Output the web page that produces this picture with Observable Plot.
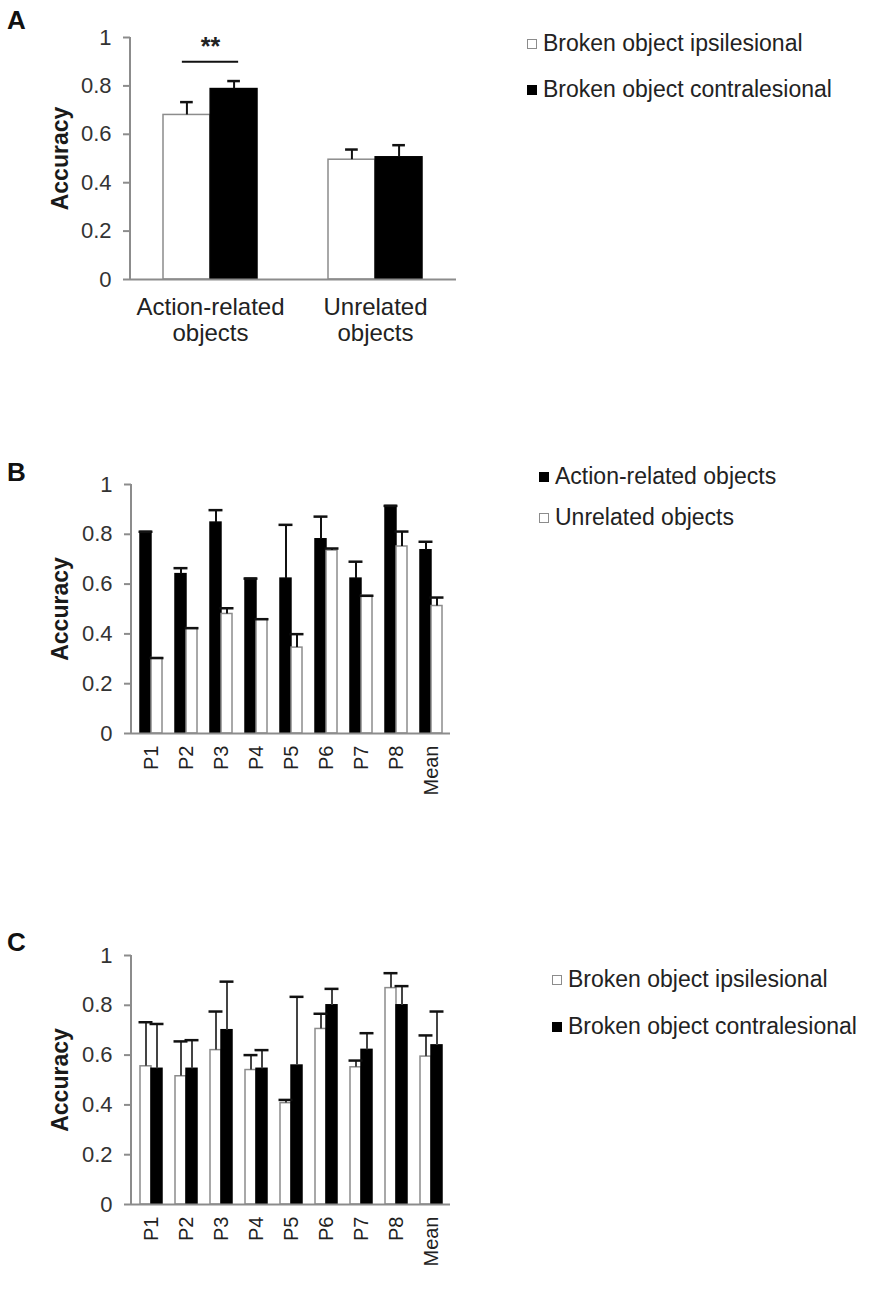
<!DOCTYPE html>
<html><head><meta charset="utf-8">
<script src="https://cdn.jsdelivr.net/npm/d3@7"></script>
<script src="https://cdn.jsdelivr.net/npm/@observablehq/plot@0.6"></script>
<style>
body{margin:0;background:#fff;}
#root{position:relative;width:884px;height:1300px;background:#fff;font-family:"Liberation Sans",Arial,sans-serif;color:#222;overflow:hidden;}
.panel{position:absolute;left:0;}
.letter{position:absolute;left:7px;font-weight:bold;font-size:26px;line-height:26px;color:#111;}
.leg{position:absolute;white-space:nowrap;font-size:23px;line-height:23px;color:#222;}
.sw{position:absolute;width:10px;height:10px;box-sizing:border-box;}
</style></head><body><div id="root"></div>
<script>
// ---------- data ----------
const yTicks = [0, 0.2, 0.4, 0.6, 0.8, 1];
const yTickLabels = ["0", "0.2", "0.4", "0.6", "0.8", "1"];

// Panel A
const groupsA = ["Action-related objects", "Unrelated objects"];
const groupLabelsA = ["Action-related\nobjects", "Unrelated\nobjects"];
const ipsiA = [0.68, 0.495];
const ipsiErrA = [0.733, 0.537];
const contraA = [0.787, 0.505];
const contraErrA = [0.82, 0.555];
const sigGroupA = ["Action-related objects"];
const sigLineA = [0.9];
const sigStarYA = [0.96];
const sigStarsA = ["**"];
const legendLabelsA = ["Broken object ipsilesional", "Broken object contralesional"];

// Panel B
const participants = ["P1", "P2", "P3", "P4", "P5", "P6", "P7", "P8", "Mean"];
const actionB = [0.81, 0.64, 0.847, 0.622, 0.622, 0.78, 0.622, 0.914, 0.736];
const actionErrB = [0.81, 0.664, 0.897, 0.622, 0.838, 0.871, 0.69, 0.914, 0.77];
const unrelB = [0.303, 0.423, 0.48, 0.459, 0.345, 0.735, 0.553, 0.751, 0.512];
const unrelErrB = [0.303, 0.423, 0.503, 0.459, 0.399, 0.743, 0.553, 0.811, 0.546];
const legendLabelsB = ["Action-related objects", "Unrelated objects"];

// Panel C
const ipsiC = [0.555, 0.515, 0.62, 0.54, 0.407, 0.705, 0.551, 0.869, 0.594];
const ipsiErrC = [0.732, 0.655, 0.775, 0.60, 0.42, 0.766, 0.578, 0.929, 0.679];
const contraC = [0.545, 0.545, 0.70, 0.545, 0.558, 0.80, 0.621, 0.80, 0.639];
const contraErrC = [0.725, 0.66, 0.895, 0.62, 0.834, 0.866, 0.688, 0.877, 0.775];
const legendLabelsC = ["Broken object ipsilesional", "Broken object contralesional"];

// ---------- styles ----------
const AXIS = "#8c8c8c";
const WHITE = {fill: "white", stroke: "#8c8c8c"};
const BLACK = {fill: "black", stroke: "black"};

const root = document.getElementById("root");

function panel(cfg) {
  const {cats, series, top, width, height, marginLeft, marginRight, marginTop, marginBottom,
         paddingInner, paddingOuter, capW, errLine, errCap, xAxis, extra = []} = cfg;
  const bw = d3.scaleBand().domain(cats).range([marginLeft, width - marginRight])
    .paddingInner(paddingInner).paddingOuter(paddingOuter).align(0.5).bandwidth();
  const marks = [];
  series.forEach((s, k) => {
    const rows = cats.map((c, i) => ({cat: c, value: s.values[i], err: s.err[i]}));
    const half = k === 0 ? {insetRight: bw / 2} : {insetLeft: bw / 2};
    const dx = k === 0 ? -bw / 4 : bw / 4;
    marks.push(Plot.barY(rows, {x: "cat", y: "value", fill: s.style.fill, stroke: s.style.stroke, strokeWidth: 1.5, ...half}));
    s.rows = rows; s.dx = dx;
  });
  series.forEach((s) => {
    marks.push(Plot.ruleX(s.rows, {x: "cat", y1: "value", y2: "err", dx: s.dx, stroke: errLine, strokeWidth: 2}));
    marks.push(Plot.tickY(s.rows, {x: "cat", y: "err", dx: s.dx, insetLeft: (bw - capW) / 2, insetRight: (bw - capW) / 2, stroke: errCap, strokeWidth: 2.5}));
  });
  marks.push(Plot.ruleY([0], {stroke: AXIS, strokeWidth: 2}));
  marks.push(Plot.axisY(yTicks, {tickSize: 7, tickPadding: 12, tickFormat: d => yTickLabels[yTicks.indexOf(d)],
    stroke: AXIS, strokeWidth: 2, fill: "#333", fontSize: 22, label: null}));
  marks.push(xAxis);
  marks.push(Plot.text(["Accuracy"], {frameAnchor: "left", textAnchor: "middle", dx: 60 - marginLeft, rotate: -90, fontSize: 23, fontWeight: "bold", fill: "#1a1a1a"}));
  extra.forEach(e => marks.push(e(bw)));
  const plot = Plot.plot({
    width, height, marginLeft, marginRight, marginTop, marginBottom,
    style: {fontFamily: "Liberation Sans, Arial, sans-serif", background: "white", overflow: "visible"},
    x: {domain: cats, paddingInner, paddingOuter, align: 0.5},
    y: {domain: [0, 1]},
    marks
  });
  // vertical axis line along the y scale range
  const ys = plot.scale("y");
  d3.select(plot).append("line")
    .attr("x1", marginLeft).attr("x2", marginLeft)
    .attr("y1", ys.apply(0)).attr("y2", ys.apply(1))
    .attr("stroke", AXIS).attr("stroke-width", 2);
  const wrap = document.createElement("div");
  wrap.className = "panel";
  wrap.style.top = top + "px";
  wrap.appendChild(plot);
  root.appendChild(wrap);
}

function legend(labels, fills, left, tops) {
  labels.forEach((lab, i) => {
    const sw = document.createElement("div");
    sw.className = "sw";
    sw.style.left = left + "px";
    sw.style.top = (tops[i] - 5) + "px";
    sw.style.background = fills[i].fill;
    sw.style.border = "1.5px solid " + fills[i].stroke;
    root.appendChild(sw);
    const t = document.createElement("div");
    t.className = "leg";
    t.style.left = (left + 16) + "px";
    t.style.top = (tops[i] - 12) + "px";
    t.textContent = lab;
    root.appendChild(t);
  });
}

function letter(ch, top) {
  const d = document.createElement("div");
  d.className = "letter";
  d.style.top = top + "px";
  d.textContent = ch;
  root.appendChild(d);
}

// Panel A
panel({
  cats: groupsA,
  series: [{values: ipsiA, err: ipsiErrA, style: WHITE}, {values: contraA, err: contraErrA, style: BLACK}],
  top: 0, width: 460, height: 360, marginLeft: 130, marginRight: 4, marginTop: 37, marginBottom: 81,
  paddingInner: 0.43, paddingOuter: 0.2, capW: 13, errLine: "#111", errCap: "#111",
  xAxis: Plot.axisX({tickSize: 0, tickPadding: 17, fontSize: 24, fill: "#222", lineHeight: 1.08,
    tickFormat: d => groupLabelsA[groupsA.indexOf(d)], label: null}),
  extra: [
    bw => Plot.tickY(sigGroupA, {x: d => d, y: (d, i) => sigLineA[i], insetLeft: bw * 0.2, insetRight: bw * 0.2, stroke: "#111", strokeWidth: 2}),
    bw => Plot.text(sigGroupA, {x: d => d, y: (d, i) => sigStarYA[i], text: (d, i) => sigStarsA[i], fontSize: 25, fontWeight: "bold", fill: "#222"})
  ]
});

// Panel B
panel({
  cats: participants,
  series: [{values: actionB, err: actionErrB, style: BLACK}, {values: unrelB, err: unrelErrB, style: WHITE}],
  top: 440, width: 460, height: 370, marginLeft: 131, marginRight: 10, marginTop: 44, marginBottom: 77,
  paddingInner: 0.377, paddingOuter: 0.2, capW: 14, errLine: "#111", errCap: "#111",
  xAxis: Plot.axisX({tickSize: 0, tickPadding: 12, tickRotate: -90, fontSize: 20, fill: "#222", label: null})
});

// Panel C
panel({
  cats: participants,
  series: [{values: ipsiC, err: ipsiErrC, style: WHITE}, {values: contraC, err: contraErrC, style: BLACK}],
  top: 910, width: 460, height: 380, marginLeft: 131, marginRight: 10, marginTop: 45, marginBottom: 86,
  paddingInner: 0.377, paddingOuter: 0.2, capW: 14, errLine: "#444", errCap: "#111",
  xAxis: Plot.axisX({tickSize: 0, tickPadding: 12, tickRotate: -90, fontSize: 20, fill: "#222", label: null})
});

letter("A", 7);
letter("B", 459);
letter("C", 929);
legend(legendLabelsA, [WHITE, BLACK], 527, [44, 90]);
legend(legendLabelsB, [BLACK, WHITE], 539, [477, 518]);
legend(legendLabelsC, [WHITE, BLACK], 552, [980, 1027]);
</script></body></html>
